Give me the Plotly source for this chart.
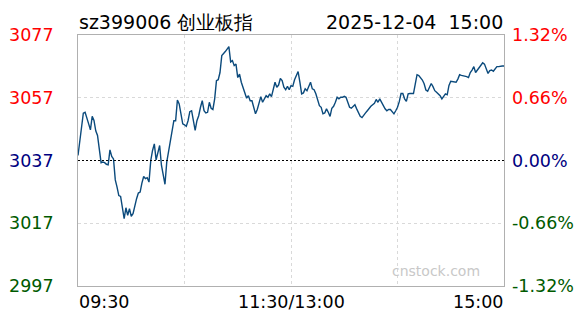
import plotly.graph_objects as go

# ---- data -------------------------------------------------------------
symbol_title = "sz399006 创业板指"
date_title = "2025-12-04  15:00"
prev_close = 3037.0
pct_limit = 1.32

price_ticks = ["3077", "3057", "3037", "3017", "2997"]
pct_ticks = ["1.32%", "0.66%", "0.00%", "-0.66%", "-1.32%"]
tick_colors = ["#ff0000", "#ff0000", "#000080", "#005a00", "#005a00"]

time_labels = ["09:30", "11:30/13:00", "15:00"]
time_positions = [0, 120, 240]

prices = [
    3038.6, 3043.4, 3048.8, 3052.1, 3052.4, 3050.8, 3048.7, 3046.8, 3051.1, 3049.8,
    3046.5, 3045.0, 3040.7, 3036.3, 3036.5, 3036.3, 3035.8, 3035.6, 3040.4, 3038.3,
    3037.5, 3030.8, 3028.5, 3025.8, 3025.5, 3021.6, 3018.4, 3021.9, 3019.5, 3021.6,
    3019.2, 3020.0, 3022.7, 3024.8, 3026.6, 3026.9, 3029.8, 3031.9, 3031.2, 3031.5,
    3030.1, 3037.0, 3040.2, 3042.3, 3037.2, 3039.5, 3041.8, 3035.5, 3032.8, 3029.4,
    3036.5, 3039.9, 3043.9, 3047.6, 3049.7, 3049.7, 3056.3, 3055.1, 3051.5, 3048.7,
    3048.4, 3047.9, 3049.7, 3052.6, 3052.9, 3050.3, 3046.6, 3049.7, 3051.3, 3054.0,
    3056.1, 3052.9, 3052.2, 3052.4, 3055.6, 3053.7, 3053.3, 3056.7, 3062.5, 3062.8,
    3065.1, 3070.5, 3071.0, 3071.8, 3072.6, 3073.4, 3068.5, 3068.9, 3067.3, 3067.8,
    3063.5, 3064.6, 3062.0, 3060.4, 3058.8, 3056.9, 3057.7, 3056.1, 3056.1, 3054.3,
    3051.9, 3053.3, 3055.8, 3057.4, 3055.6, 3056.7, 3057.7, 3057.2, 3058.3, 3057.4,
    3060.2, 3062.0, 3060.4, 3061.1, 3063.2, 3062.5, 3060.4, 3059.6, 3060.7, 3059.6,
    3060.9,
    3060.7, 3062.8, 3064.1, 3065.4, 3062.0, 3058.3, 3058.6, 3059.9, 3059.3, 3060.7,
    3062.0, 3059.9, 3059.6, 3058.3, 3056.7, 3054.5, 3054.0, 3051.9, 3052.2, 3053.5,
    3052.4, 3051.1, 3053.7, 3054.3, 3055.6, 3057.2, 3056.7, 3057.2, 3057.2, 3057.5,
    3057.2, 3055.6, 3054.0, 3053.7, 3054.3, 3054.8, 3053.5, 3052.2, 3051.1, 3050.7,
    3051.6, 3052.2, 3052.9, 3053.7, 3054.3, 3054.8, 3055.3, 3056.5, 3055.6, 3056.7,
    3055.6, 3054.5, 3053.5, 3052.9, 3053.3, 3053.3, 3052.4, 3051.9, 3052.9, 3054.0,
    3055.8, 3058.4, 3058.4, 3056.7, 3055.9, 3058.3, 3058.4, 3058.3, 3058.4, 3061.4,
    3064.4, 3064.1, 3063.4, 3062.7, 3061.5, 3059.5, 3059.1, 3060.4, 3061.6, 3060.6,
    3059.3, 3058.8, 3058.3, 3057.7, 3056.7, 3057.4, 3058.3, 3058.0, 3061.0, 3062.3,
    3062.2, 3062.3, 3062.0, 3063.0, 3064.4, 3064.2, 3064.1, 3064.0, 3063.8, 3063.5,
    3065.1, 3065.9, 3067.0, 3065.1, 3065.9, 3066.4, 3067.4, 3068.2, 3067.8, 3066.2,
    3064.8, 3065.7, 3065.9, 3065.5, 3066.2, 3067.0, 3067.0, 3067.2, 3067.2, 3067.2,
]
minutes = list(range(len(prices)))

# ---- figure -----------------------------------------------------------
FONT = "DejaVu Sans"
W, H = 588, 324
ML, MR, MT, MB = 78, 84, 35, 38
plot_w = W - ML - MR

ymax = prev_close * (1 + pct_limit / 100)
ymin = prev_close * (1 - pct_limit / 100)
tick_vals = [ymax, prev_close * (1 + pct_limit / 200), prev_close,
             prev_close * (1 - pct_limit / 200), ymin]

fig = go.Figure()
fig.add_trace(go.Scatter(x=minutes, y=prices, mode="lines",
                         line=dict(color="#0b4a7c", width=1.4),
                         hoverinfo="skip", showlegend=False))

axis_common = dict(showticklabels=False, showgrid=True, gridcolor="#d9d9d9",
                   griddash="3px,3px", gridwidth=1, zeroline=False, showline=True,
                   linecolor="#b0b0b0", linewidth=1, mirror=True, ticks="")
fig.update_layout(
    width=W, height=H,
    margin=dict(l=ML, r=MR, t=MT, b=MB),
    paper_bgcolor="white", plot_bgcolor="white",
    font=dict(family=FONT, size=17, color="black"),
    xaxis=dict(range=[0, 240], tickvals=[60, 120, 180], **axis_common),
    yaxis=dict(range=[ymin, ymax], tickvals=[tick_vals[1], tick_vals[3]], **axis_common),
)

# previous close line
fig.add_shape(type="line", xref="paper", yref="y", x0=0, x1=1,
              y0=prev_close, y1=prev_close,
              line=dict(color="black", width=1, dash="2px,2px"))

TS = 17.5
annotations = []
for val, ptxt, col in zip(tick_vals, price_ticks, tick_colors):
    annotations.append(dict(x=(55 - ML) / plot_w, xref="paper", xanchor="right",
                            y=val, yref="y", yanchor="middle", text=ptxt,
                            showarrow=False, borderpad=0,
                            font=dict(family=FONT, size=TS, color=col)))
for val, qtxt, col in zip(tick_vals, pct_ticks, tick_colors):
    annotations.append(dict(x=(511 - ML) / plot_w, xref="paper", xanchor="left",
                            y=val, yref="y", yanchor="middle", text=qtxt,
                            showarrow=False, borderpad=0,
                            font=dict(family=FONT, size=TS, color=col)))

anchors = ["left", "center", "right"]
for pos, lab, anc in zip(time_positions, time_labels, anchors):
    annotations.append(dict(x=pos, xref="x", xanchor=anc, y=ymin, yref="y",
                            yanchor="top", yshift=-5, text=lab, showarrow=False,
                            borderpad=0,
                            font=dict(family=FONT, size=TS, color="black")))

annotations.append(dict(x=0, xref="paper", xanchor="left", y=ymax, yref="y",
                        yanchor="bottom", yshift=1, text=symbol_title, showarrow=False,
                        borderpad=0, font=dict(family=FONT, size=19, color="black")))
annotations.append(dict(x=1, xref="paper", xanchor="right", y=ymax, yref="y",
                        yanchor="bottom", yshift=1, text=date_title, showarrow=False,
                        borderpad=0, font=dict(family=FONT, size=19, color="black")))
annotations.append(dict(x=(481 - ML) / plot_w, xref="paper", xanchor="right",
                        y=0.06, yref="paper", yanchor="middle", text="cnstock.com",
                        showarrow=False, borderpad=0,
                        font=dict(family=FONT, size=14, color="#c8c8c8")))

fig.update_layout(annotations=annotations)

fig.write_html("out.html")
